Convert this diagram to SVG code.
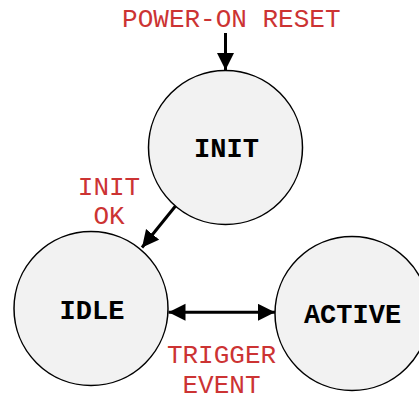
<svg xmlns="http://www.w3.org/2000/svg" width="419" height="396" viewBox="0 0 419 396">
  <style>
    .node circle { fill: #f2f2f2; stroke: #000; stroke-width: 1.5; }
    .node text { font-family: "Liberation Mono", "Courier New", monospace; font-weight: bold; font-size: 27px; fill: #000; text-anchor: middle; }
    .lbl { font-family: "Liberation Mono", "Courier New", monospace; font-size: 26px; fill: #cc3333; text-anchor: middle; }
    .edge { stroke: #000; stroke-width: 3; fill: none; }
  </style>
  <defs>
    <marker id="ah" markerUnits="userSpaceOnUse" markerWidth="18" markerHeight="18" refX="17" refY="8.5" orient="auto-start-reverse">
      <path d="M0,0 L17,8.5 L0,17 z" fill="#000"/>
    </marker>
  </defs>
  <rect width="419" height="396" fill="#fff"/>
  <g id="connectors">
    <line class="edge" x1="225.5" y1="33" x2="225.5" y2="70" marker-end="url(#ah)"/>
    <line class="edge" x1="175.5" y1="206" x2="142" y2="247.5" marker-end="url(#ah)"/>
    <line class="edge" x1="168.5" y1="312.3" x2="275" y2="312.3" marker-start="url(#ah)" marker-end="url(#ah)"/>
  </g>
  <g id="node-init" class="node">
    <circle cx="225.5" cy="147.5" r="77"/>
    <text x="226.5" y="157">INIT</text>
  </g>
  <g id="node-idle" class="node">
    <circle cx="91" cy="308.5" r="77"/>
    <text x="92" y="318.5">IDLE</text>
  </g>
  <g id="node-active" class="node">
    <circle cx="352" cy="313.5" r="77"/>
    <text x="352.5" y="322.5">ACTIVE</text>
  </g>
  <g id="labels">
    <text class="lbl" x="231.3" y="26.7">POWER-ON RESET</text>
    <text class="lbl" x="109" y="195">INIT</text>
    <text class="lbl" x="109" y="224.3">OK</text>
    <text class="lbl" x="221.5" y="362.7">TRIGGER</text>
    <text class="lbl" x="221.5" y="392.5">EVENT</text>
  </g>
</svg>
